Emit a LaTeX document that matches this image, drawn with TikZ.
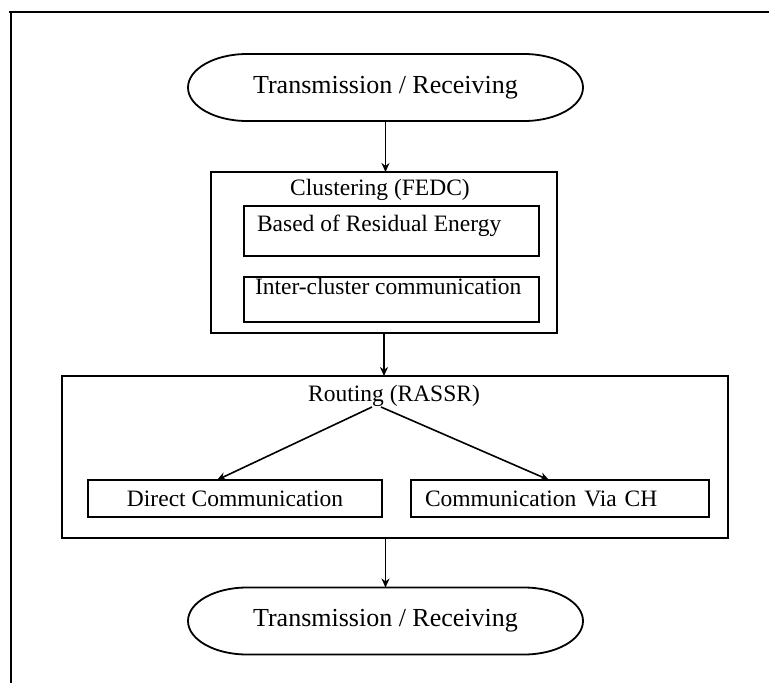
\documentclass[tikz,border=0pt]{standalone}
\usepackage{fontspec}
\setmainfont{Liberation Serif}
\usetikzlibrary{arrows.meta}
\begin{document}
\begin{tikzpicture}[x=1pt,y=-1pt,
  every node/.style={inner sep=0pt, outer sep=0pt, font=\fontsize{23.5}{28}\selectfont},
  term/.style={minimum width=395pt, minimum height=67pt, font=\fontsize{26}{31}\selectfont},
  box/.style={draw, line width=1.8pt, inner sep=0pt},
  arr/.style={line width=1.6pt, -{Stealth[length=9pt,width=8pt]}},
  termline/.style={draw, line width=1.8pt}
]
\useasboundingbox (0,0) rectangle (769,683);
% outer frame
\draw[line width=2.8pt] (769,12) -- (9,12) -- (11,12) -- (11,683);

% top terminal
\node[term] (t1) at (385.5,87.5) {Transmission / Receiving};
\path[termline] ([xshift=59pt]t1.north west) -- ([xshift=-59pt]t1.north east)
  arc[start angle=90, end angle=-90, x radius=59pt, y radius=33.5pt]
  -- ([xshift=59pt]t1.south west)
  arc[start angle=270, end angle=90, x radius=59pt, y radius=33.5pt] -- cycle;

% clustering
\node[box, minimum width=346pt, minimum height=161pt] (clu) at (384,252.5) {};
\node[anchor=base] (clul) at (380,195) {Clustering (FEDC)};
\node[box, minimum width=295pt, minimum height=50pt] (b1) at (391.5,231) {};
\node[anchor=base west] (b1l) at (257,231) {Based of Residual Energy};
\node[box, minimum width=295pt, minimum height=45pt] (b2) at (391.5,299.5) {};
\node[anchor=base west] (b2l) at (255,294) {Inter-cluster communication};

% routing
\node[box, minimum width=666pt, minimum height=162pt] (rout) at (395,457) {};
\node[anchor=base] (routl) at (394,401) {Routing (RASSR)};
\node[box, minimum width=294pt, minimum height=37pt] (dir) at (235,498.5) {Direct Communication};
\node[box, minimum width=298pt, minimum height=37pt, text width=270pt, inner xsep=14pt, align=left] (via) at (560,498.5) {Communication Via CH};
\coordinate (rs1) at (372,407);
\coordinate (rs2) at (381,407);

% bottom terminal
\node[term] (t2) at (385.5,621) {Transmission / Receiving};
\path[termline] ([xshift=59pt]t2.north west) -- ([xshift=-59pt]t2.north east)
  arc[start angle=90, end angle=-90, x radius=59pt, y radius=33.5pt]
  -- ([xshift=59pt]t2.south west)
  arc[start angle=270, end angle=90, x radius=59pt, y radius=33.5pt] -- cycle;

% connectors
\draw[arr] (t1.south) -- (t1.south |- clu.north);
\draw[arr] (clu.south) -- (clu.south |- rout.north);
\draw[arr] (rs1) -- ([xshift=-18pt]dir.north);
\draw[arr] (rs2) -- ([xshift=-11pt]via.north);
\draw[arr] (t2.north |- rout.south) -- (t2.north);
\end{tikzpicture}
\end{document}
